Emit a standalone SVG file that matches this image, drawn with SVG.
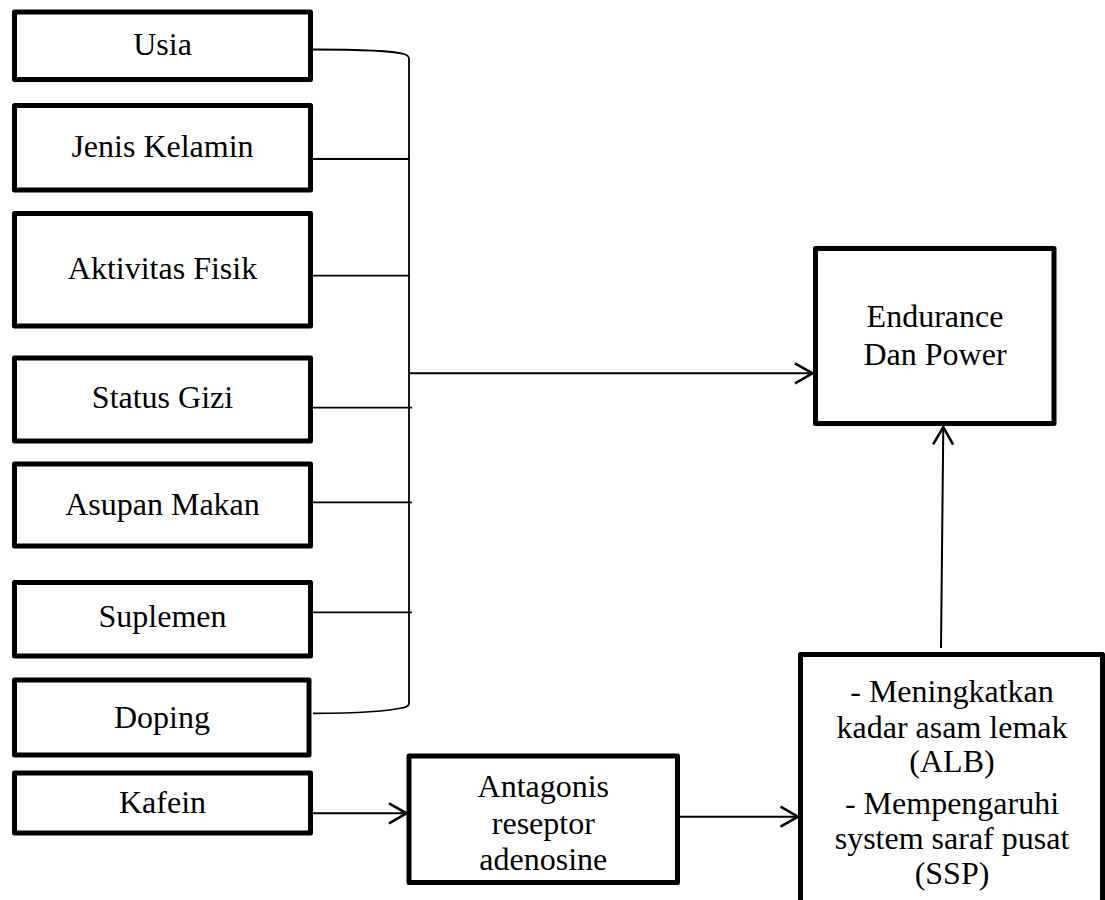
<svg xmlns="http://www.w3.org/2000/svg" width="1105" height="900" viewBox="0 0 1105 900">
<style>
.box{fill:#fff;stroke:#000;stroke-width:5;stroke-linejoin:round}
.t{font-family:"Liberation Serif","Times New Roman",serif;font-size:32px;fill:#000;text-anchor:middle}
.ln{fill:none;stroke:#000;stroke-width:2}
.br{fill:none;stroke:#000;stroke-width:1.8}
.ar{fill:none;stroke:#000;stroke-width:2;marker-end:url(#ah)}
</style>
<defs>
<marker id="ah" markerUnits="userSpaceOnUse" viewBox="-22 -13 24 26" markerWidth="24" markerHeight="26" refX="0" refY="0" orient="auto" overflow="visible">
<path d="M-17.5,-10 L0,0 L-17.5,10" fill="none" stroke="#000" stroke-width="2.6" stroke-linejoin="miter"/>
</marker>
</defs>
<rect width="1105" height="900" fill="#fff"/>
<g id="connectors">
<path class="br" d="M313,49.5 C360,49.5 395,51.5 404,54 Q409,55.5 409,59 L409,703 Q409,706.5 404,707.5 C392,710.5 360,713.3 313,713.3"/>
<line class="br" x1="313" y1="159" x2="409" y2="159"/>
<line class="br" x1="313" y1="275.7" x2="409" y2="275.7"/>
<line class="br" x1="313" y1="407.7" x2="412" y2="407.7"/>
<line class="br" x1="313" y1="502.3" x2="412" y2="502.3"/>
<line class="br" x1="313" y1="612.3" x2="412" y2="612.3"/>
<line class="ar" x1="409" y1="373.3" x2="812.5" y2="373.3"/>
<line class="ar" x1="312" y1="813.3" x2="406.5" y2="813.3"/>
<line class="ar" x1="680" y1="816.7" x2="798" y2="816.7"/>
<line class="ar" x1="941" y1="648" x2="943.3" y2="427"/>
</g>
<g id="n-usia"><rect class="box" x="14.5" y="12" width="296" height="67.5"/><text class="t" x="162.5" y="55">Usia</text></g>
<g id="n-jenis"><rect class="box" x="14.5" y="105.5" width="296" height="84.5"/><text class="t" x="162.5" y="157">Jenis Kelamin</text></g>
<g id="n-aktivitas"><rect class="box" x="14.5" y="213.5" width="296" height="112.5"/><text class="t" x="162.5" y="279">Aktivitas Fisik</text></g>
<g id="n-status"><rect class="box" x="14.5" y="358" width="296" height="83"/><text class="t" x="162.5" y="408">Status Gizi</text></g>
<g id="n-asupan"><rect class="box" x="14.5" y="464" width="296" height="82"/><text class="t" x="162.5" y="515">Asupan Makan</text></g>
<g id="n-suplemen"><rect class="box" x="14.5" y="582.5" width="296" height="73.5"/><text class="t" x="162.5" y="627">Suplemen</text></g>
<g id="n-doping"><rect class="box" x="14.5" y="680" width="294.5" height="75"/><text class="t" x="162" y="728">Doping</text></g>
<g id="n-kafein"><rect class="box" x="14.5" y="773" width="296" height="60"/><text class="t" x="162.5" y="813">Kafein</text></g>
<g id="n-antagonis"><rect class="box" x="409" y="756" width="268.5" height="126.5"/><text class="t" x="543.3" y="797">Antagonis</text><text class="t" x="543.3" y="833.5">reseptor</text><text class="t" x="543.3" y="870">adenosine</text></g>
<g id="n-endurance"><rect class="box" x="815.5" y="248.5" width="238.5" height="175"/><text class="t" x="935" y="327">Endurance</text><text class="t" x="935" y="365">Dan Power</text></g>
<g id="n-efek"><rect class="box" x="800.5" y="654.5" width="302" height="260"/><text class="t" x="952" y="702">- Meningkatkan</text><text class="t" x="952" y="738">kadar asam lemak</text><text class="t" x="952" y="772">(ALB)</text><text class="t" x="952" y="814">- Mempengaruhi</text><text class="t" x="952" y="849">system saraf pusat</text><text class="t" x="952" y="884">(SSP)</text></g>
</svg>
